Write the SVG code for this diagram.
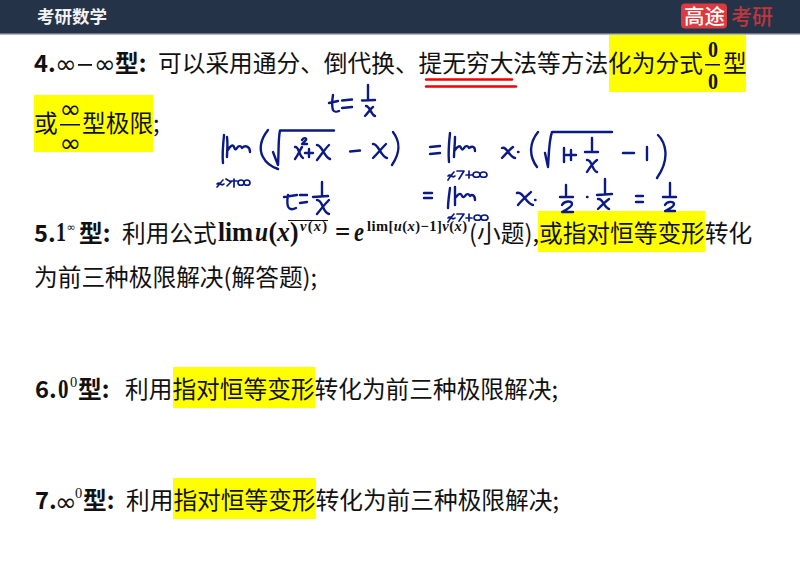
<svg xmlns="http://www.w3.org/2000/svg" width="800" height="566" viewBox="0 0 800 566">
<style>
text{font-family:"Noto Sans CJK SC","Liberation Sans",sans-serif;fill:#111;font-size:23.7px}
.b{font-weight:700}
.m{font-family:"Liberation Serif","Noto Sans CJK SC",serif;font-weight:700;font-size:27px}
.s{font-family:"Liberation Serif",serif;font-weight:700;font-size:14.5px}
.inf{font-family:"DejaVu Sans",sans-serif;font-weight:400;font-size:26px}
.i{font-style:italic}
.hl{fill:#ffff00}
.ink{fill:none;stroke:#0b1a85;stroke-width:2.4;stroke-linecap:round;stroke-linejoin:round}
.thin{stroke-width:1.7}
.red{fill:none;stroke:#f00000;stroke-width:2.4;stroke-linecap:round}
</style>
<rect width="800" height="566" fill="#ffffff"/>
<g id="header">
<rect width="800" height="34" fill="#253349"/>
<rect y="33" width="800" height="1.5" fill="#6b7585"/>
<text x="37" y="23" class="b" style="fill:#f2f2f2;font-size:17.5px">考研数学</text>
<rect x="681" y="3.500" width="46" height="25" rx="4" fill="#dc3a40"/>
<text x="684" y="24" style="fill:#fff;font-size:20.5px;font-weight:500">高途</text>
<text x="731" y="23.500" style="fill:#bf363c;font-size:21px;font-weight:500">考研</text>
</g>
<g id="highlights">
<rect class="hl" x="609" y="35" width="137" height="57"/>
<rect class="hl" x="34" y="95" width="119" height="57"/>
<rect class="hl" x="538" y="211" width="167" height="41"/>
<rect class="hl" x="173" y="367" width="142" height="41"/>
<rect class="hl" x="173" y="478" width="143" height="41"/>
</g>
<g id="item4">
<text x="34" y="72" class="b">4.</text>
<text x="55" y="73" class="inf">∞</text>
<rect x="78" y="64" width="14" height="1.800" fill="#111"/>
<text x="94" y="73" class="inf">∞</text>
<text x="115" y="72" class="b">型:</text>
<text x="158" y="72">可以采用通分、倒代换、提无穷大法等方法化为分式</text>
<text x="708" y="57" class="m" style="font-size:24px" textLength="10" lengthAdjust="spacingAndGlyphs">0</text>
<rect x="705" y="64" width="15" height="1.500" fill="#111"/>
<text x="708" y="89" class="m" style="font-size:24px" textLength="10" lengthAdjust="spacingAndGlyphs">0</text>
<text x="723" y="72">型</text>
<text x="34" y="132">或</text>
<text x="59.500" y="118" class="inf">∞</text>
<rect x="60" y="124" width="20" height="1.500" fill="#111"/>
<text x="59.500" y="152" class="inf">∞</text>
<text x="82" y="132">型极限;</text>
</g>
<g id="underline">
<path class="red" d="M426 79.500H512"/>
<path class="red" d="M426 86.500H516"/>
</g>
<g id="item5">
<text x="34" y="242" class="b">5.</text>
<text x="56" y="241" class="m" textLength="10" lengthAdjust="spacingAndGlyphs">1</text>
<text x="66.500" y="231" class="inf" style="font-size:11px">∞</text>
<text x="79" y="242" class="b">型:</text>
<text x="122" y="242">利用公式</text>
<text x="218" y="241" class="m" textLength="35" lengthAdjust="spacingAndGlyphs">lim</text>
<text x="255" y="241" class="m i" textLength="13" lengthAdjust="spacingAndGlyphs">u</text>
<text x="268.500" y="241" class="m" textLength="30" lengthAdjust="spacingAndGlyphs">(<tspan class="i">x</tspan>)</text>
<path d="M288 220.500H328" stroke="#111" stroke-width="1.200" fill="none"/>
<text x="300" y="231" class="s i" textLength="27">v<tspan font-style="normal">(</tspan>x<tspan font-style="normal">)</tspan></text>
<text x="335" y="241" class="m">=</text>
<text x="354" y="241" class="m i" textLength="10" lengthAdjust="spacingAndGlyphs">e</text>
<text x="367" y="231" class="s" textLength="100">lim[<tspan class="i">u</tspan>(<tspan class="i">x</tspan>)−1]<tspan class="i">v</tspan>(<tspan class="i">x</tspan>)</text>
<text x="469" y="242">(小题),或指对恒等变形转化</text>
<text x="34" y="286">为前三种极限解决(解答题);</text>
</g>
<g id="item6">
<text x="35" y="398" class="b">6.</text>
<text x="58" y="398" class="m" textLength="10.500" lengthAdjust="spacingAndGlyphs">0</text>
<text x="70" y="387" class="s" style="font-weight:400">0</text>
<text x="78" y="398" class="b">型:</text>
<text x="125" y="398">利用指对恒等变形转化为前三种极限解决;</text>
</g>
<g id="item7">
<text x="35" y="509" class="b">7.</text>
<text x="55" y="511" class="inf">∞</text>
<text x="75" y="498" class="s" style="font-weight:400">0</text>
<text x="83" y="509" class="b">型:</text>
<text x="126" y="509">利用指对恒等变形转化为前三种极限解决;</text>
</g>
<g id="handwriting">
<path class="ink" d="M333 95C332 101 332 107 333 110 334 112 337 112 339 111M329 103L338 101M342 100.500L352 99.500M342 108L352 107M368 85V100M362 100.500L375 100M366 106C370 106 371 115 375 116M373 107C370 109 368 113 365 116"/>
<path class="ink" d="M224 135C223 145 222 155 223 163M227 137C228 145 227 151 227 157M228 150C230 146 233 144 234 147 235 150 236 150 237 148 239 145 241 146 242 148 245 145 250 146 250 152"/>
<path class="ink" d="M268 130C260 140 259 150 263 157 266 163 272 167 278 169M273 152L278 165C279 150 278 140 280 130.500H334M295 147C299 146 299 156 303 158M302 147C300 150 298 155 295 159M302 140C304 137 307 138 306 140L302 144H307M305 153H313M309 149V157M317 145C322 145 324 157 330 159M329 145C325 149 321 155 317 160M350 151.500L360 150.500M373 144C378 143 381 157 387 158M386 144C382 148 378 153 373 158M393 132C399 140 402 150 392 165"/>
<path class="ink thin" d="M217 184C220 181 221 187 224 184M223 180C221 182 219 185 217 187M226 179L231 182 227 186M231 181H237M234 179V187M238 183C238 179 244 179 244 183 244 186 238 186 238 183ZM244 183C244 179 250 179 250 183 250 186 244 186 244 183Z"/>
<path class="ink" d="M430 147L440 146M430 154L440 153M450 133C449 142 448 152 449 162M455 137C455 145 454 151 454 157M455 150C458 146 460 145 461 148 462 150 463 150 464 148 466 145 468 146 469 148 472 146 475 146 475 151"/>
<path class="ink thin" d="M448 176C451 173 452 179 455 176M454 172C452 174 450 177 448 180M457 171H464L459 179M466 175H472M469 171V178M473 175C473 171 480 171 480 175 480 178 473 178 473 175ZM480 175C480 171 487 171 487 175 487 178 480 178 480 175Z"/>
<path class="ink" d="M502 148C507 146 509 157 515 158M513 147C509 150 506 154 502 158M518 152H518.500M538 132C530 142 528 155 537 167M545 153L548 167C549 152 549 140 552 132H612M564 148V162M566 155H576M571 150V160M592 138V150M585 152H598M587 160C592 159 592 171 597 172M597 160C593 163 590 167 587 172M623 153H634M647 147V160M658 135C665 142 671 158 657 178"/>
<path class="ink" d="M288 195C287 201 287 206 289 208 291 210 294 209 296 208M284 197L297 195M300 195H307M300 203L307 202M322 182V195M313 197L328 196M317 200C323 200 322 212 329 214M329 200C325 204 321 209 317 214"/>
<path class="ink" d="M424 193H432M424 198H432M450 188C449 196 448 202 448 208M455 187C455 195 455 200 455 205M456 197C459 193 461 193 462 196 463 198 464 197 465 196 467 193 469 194 470 196 472 194 475 195 475 200"/>
<path class="ink thin" d="M448 218C451 215 452 221 455 218M454 214C452 216 450 219 448 222M457 214H464L459 221M466 218H472M469 214V221M474 218C474 214 481 214 481 218 481 221 474 221 474 218ZM481 218C481 214 488 214 488 218 488 221 481 221 481 218Z"/>
<path class="ink" d="M517 193C523 191 526 204 533 205M531 192C527 196 522 200 518 205M535 200H535.500M566 185V195M560 197H573M562 205C564 201 572 200 572 204 572 207 566 210 562 212H573M587 197H587.500M605 179V193M597 195L612 194M598 199C603 198 604 208 609 209M609 199C605 202 602 205 598 209M636 196H643M636 202H643M670 183V195M663 197H676M665 205C667 201 674 201 674 204 674 207 669 209 665 211H675"/>
</g>
</svg>
